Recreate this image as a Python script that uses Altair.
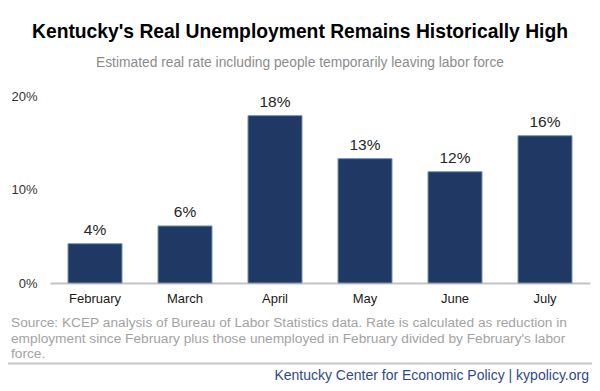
import altair as alt
import pandas as pd

months = ["February", "March", "April", "May", "June", "July"]
rates = [0.042, 0.061, 0.179, 0.133, 0.119, 0.1575]
y_ticks = [0, 0.1, 0.2]

title_text = "Kentucky's Real Unemployment Remains Historically High"
subtitle_text = "Estimated real rate including people temporarily leaving labor force"
source_lines = [
    "Source: KCEP analysis of Bureau of Labor Statistics data. Rate is calculated as reduction in",
    "employment since February plus those unemployed in February divided by February's labor",
    "force.",
]
footer_text = "Kentucky Center for Economic Policy | kypolicy.org"

FONT = "Liberation Sans"
W, H = 540, 187

df = pd.DataFrame({"month": months, "rate": rates})

x_enc = alt.X(
    "month:N",
    sort=months,
    scale=alt.Scale(paddingInner=0.4, paddingOuter=0.2),
    axis=alt.Axis(
        title=None, labelAngle=0, ticks=False, domain=True, domainColor="#c4c4c4",
        domainWidth=2, labelFont=FONT, labelFontSize=13, labelColor="#1a1a1a",
        labelPadding=9,
    ),
)
y_enc = alt.Y(
    "rate:Q",
    scale=alt.Scale(domain=[0, 0.2], nice=False),
    axis=alt.Axis(
        title=None, values=y_ticks, format=".0%", grid=False, ticks=False, domain=False,
        labelFont=FONT, labelFontSize=13, labelColor="#333333", labelPadding=13,
    ),
)

bars = alt.Chart(df).mark_bar(
    color="#1f3864", stroke="#7891b5", strokeWidth=1
).encode(x=x_enc, y=y_enc)

labels = alt.Chart(df).mark_text(
    font=FONT, fontSize=15.5, color="#262626", baseline="alphabetic", dy=-9
).encode(
    x=alt.X("month:N", sort=months),
    y="rate:Q",
    text=alt.Text("rate:Q", format=".0%"),
)


def text_layer(txt, x, y, **kw):
    return alt.Chart(pd.DataFrame({"t": [txt]})).mark_text(
        font=FONT, baseline="alphabetic", **kw
    ).encode(x=alt.value(x), y=alt.value(y), text="t:N")


title = text_layer(title_text, 250, -58, fontSize=19.3, fontWeight="bold",
                   color="#000000", align="center")
subtitle = text_layer(subtitle_text, 250, -29, fontSize=13.8, color="#8c8c8c",
                      align="center")
src_y = [231, 246.5, 262]
sources = [
    text_layer(line, -39, yy, fontSize=13.7, color="#a3a3a3", align="left")
    for line, yy in zip(source_lines, src_y)
]

sep = alt.Chart(pd.DataFrame({"a": [0]})).mark_rule(color="#c8c8c8", strokeWidth=2).encode(
    x=alt.value(-42), x2=alt.value(542), y=alt.value(267.5)
)

footer = text_layer(footer_text, 539, 284, fontSize=14, color="#2f4a8a", align="right")

chart = alt.layer(bars, labels, title, subtitle, *sources, sep, footer).properties(
    width=W, height=H,
    autosize=alt.AutoSizeParams(type="none"),
    padding={"left": 42, "top": 88, "right": 2, "bottom": 100},
    background="white",
).configure_view(stroke=None)

chart.save("out.html", embed_options={"renderer": "svg", "actions": False})
